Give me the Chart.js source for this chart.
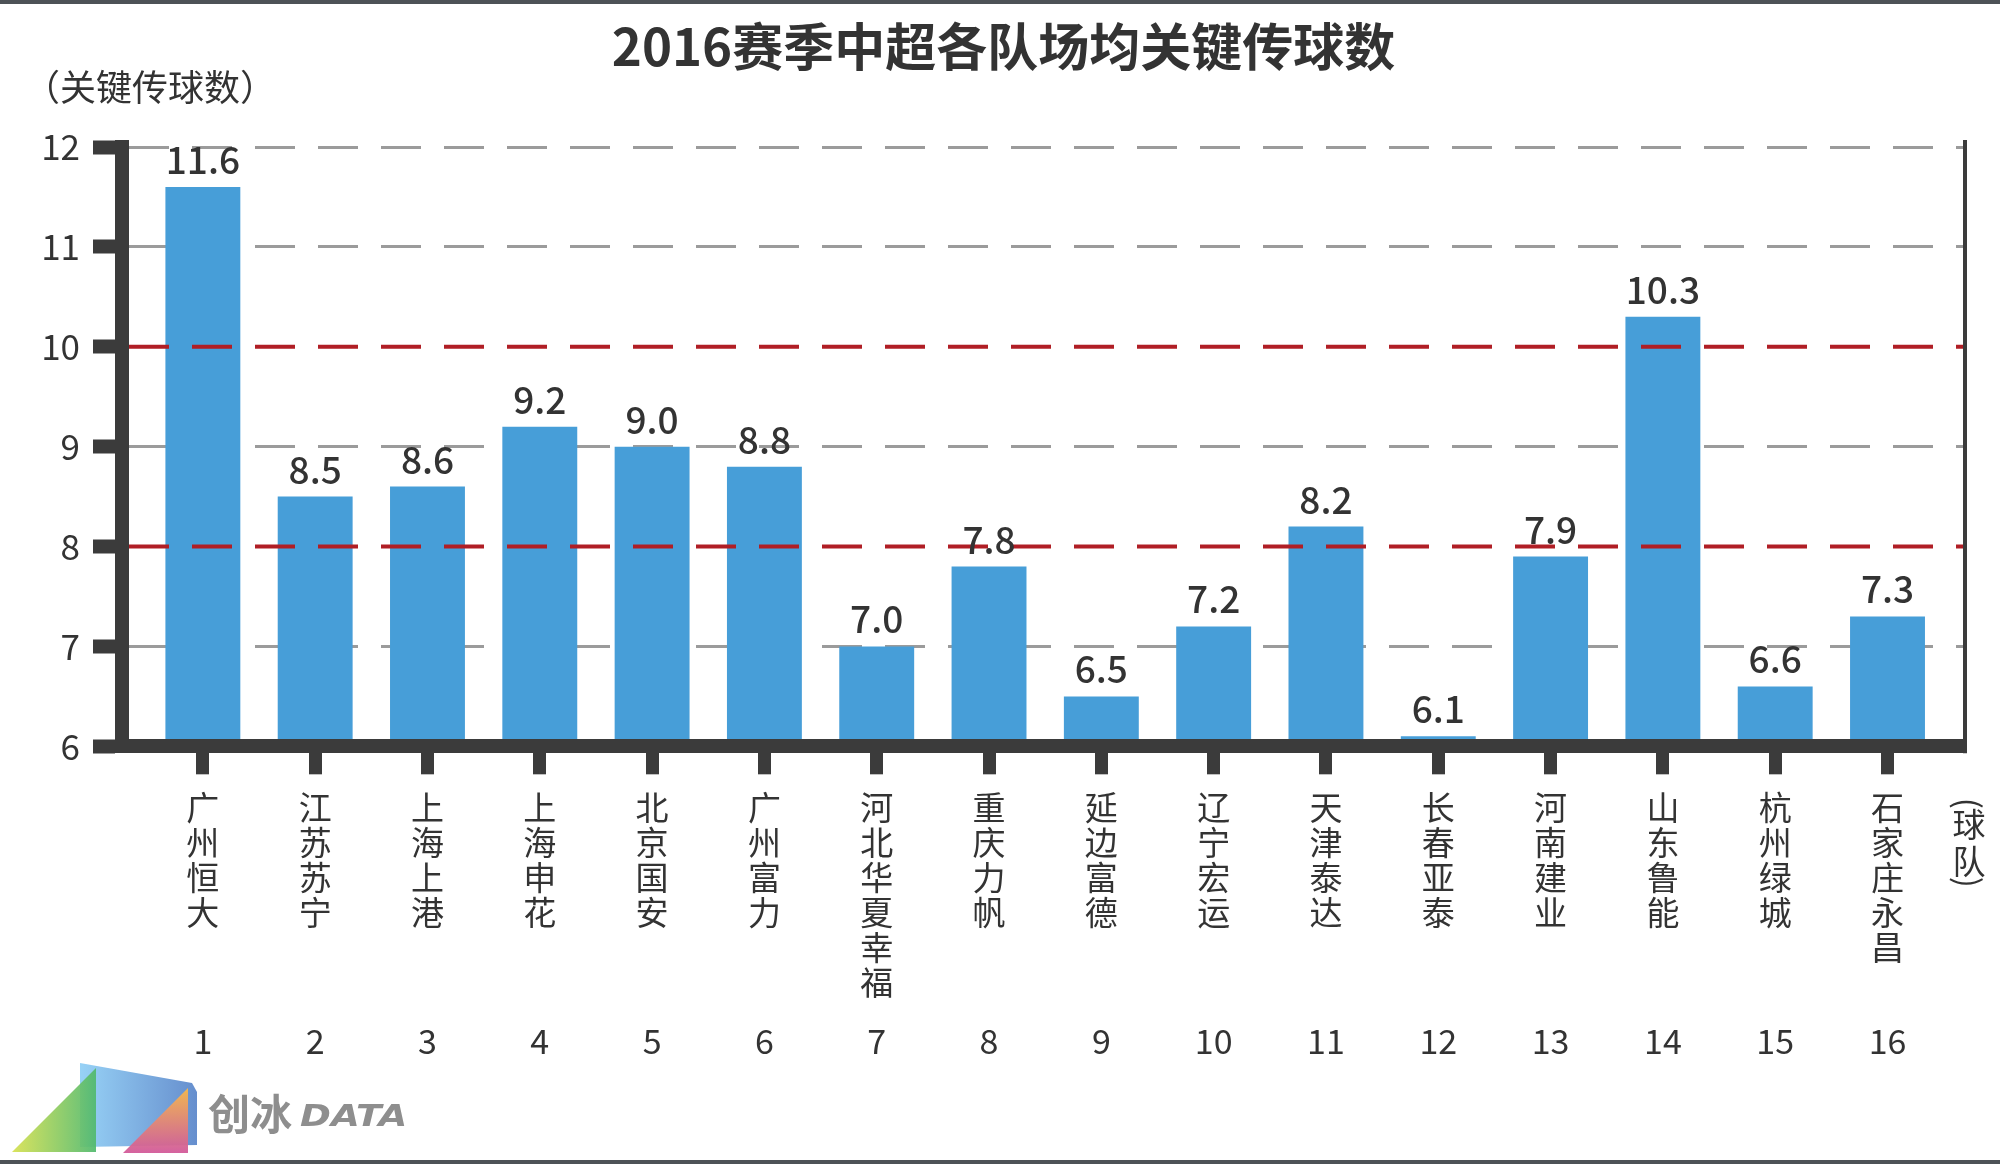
<!DOCTYPE html>
<html>
<head>
<meta charset="utf-8">
<title>2016赛季中超各队场均关键传球数</title>
<script src="https://cdn.jsdelivr.net/npm/chart.js@4"></script>
<style>
  html, body { margin: 0; padding: 0; background: #fff; }
  #wrap { width: 2000px; height: 1164px; position: relative; }
</style>
</head>
<body>
<div id="wrap"><canvas id="myChart"></canvas></div>
<script>
const ranks = [1, 2, 3, 4, 5, 6, 7, 8, 9, 10, 11, 12, 13, 14, 15, 16];
const teams = ["广州恒大", "江苏苏宁", "上海上港", "上海申花", "北京国安", "广州富力", "河北华夏幸福", "重庆力帆",
  "延边富德", "辽宁宏运", "天津泰达", "长春亚泰", "河南建业", "山东鲁能", "杭州绿城", "石家庄永昌"];
const passes = [11.6, 8.5, 8.6, 9.2, 9.0, 8.8, 7.0, 7.8, 6.5, 7.2, 8.2, 6.1, 7.9, 10.3, 6.6, 7.3];
const yTicks = [6, 7, 8, 9, 10, 11, 12];
const refLines = [8, 10];

const FONT = "'Noto Sans CJK SC', 'Noto Sans', sans-serif";
const DARK = "#3b3b3b";
const BAR = "#479ED8";
const RED = "#b01e25";
const DASH = [40, 23];

Chart.defaults.font.family = FONT;
Chart.defaults.color = "#333";

const xMin = ranks[0] - 0.72;
const xMax = ranks[ranks.length - 1] + 0.69;

// red reference lines go on top of the bars
const refLinePlugin = {
  id: "refLines",
  afterDatasetsDraw(chart) {
    const { ctx, chartArea, scales } = chart;
    ctx.save();
    ctx.strokeStyle = RED;
    ctx.lineWidth = 4;
    ctx.setLineDash(DASH);
    refLines.forEach(v => {
      const py = scales.y.getPixelForValue(v);
      ctx.beginPath();
      ctx.moveTo(chartArea.left + 7, py);
      ctx.lineTo(chartArea.right, py);
      ctx.stroke();
    });
    ctx.restore();
  }
};

const decorPlugin = {
  id: "decor",
  beforeDraw(chart) {
    const { ctx, width, height } = chart;
    ctx.save();
    ctx.fillStyle = "#4d5257";
    ctx.fillRect(0, 0, width, 4);
    ctx.fillRect(0, height - 4, width, 4);
    ctx.restore();
  },
  afterDraw(chart) {
    const { ctx, chartArea, height } = chart;
    ctx.save();

    // y unit in the top left corner
    ctx.fillStyle = "#333";
    ctx.font = "36px " + FONT;
    ctx.textAlign = "left";
    ctx.textBaseline = "middle";
    ctx.fillText("（关键传球数）", chartArea.left - 98, chartArea.top - 60);

    // right frame line
    ctx.strokeStyle = DARK;
    ctx.lineWidth = 4;
    ctx.beginPath();
    ctx.moveTo(chartArea.right, chartArea.top - 7);
    ctx.lineTo(chartArea.right, chartArea.bottom + 7);
    ctx.stroke();

    // value labels
    const meta = chart.getDatasetMeta(0);
    ctx.font = "500 37px " + FONT;
    ctx.textAlign = "center";
    ctx.textBaseline = "alphabetic";
    meta.data.forEach((bar, i) => {
      ctx.fillText(passes[i].toFixed(1), bar.x, bar.y - 13);
    });

    // x unit, written vertically
    const rx = chartArea.right + 4;
    const by = chartArea.bottom;
    ctx.font = "33px " + FONT;
    ctx.textBaseline = "middle";
    ctx.fillText("球", rx, by + 78);
    ctx.fillText("队", rx, by + 115);
    [["(", by + 57], [")", by + 136]].forEach(([ch, py]) => {
      ctx.save();
      ctx.translate(rx, py);
      ctx.rotate(Math.PI / 2);
      ctx.fillText(ch, 0, 0);
      ctx.restore();
    });

    // logo
    const oy = height - 1164;
    let g = ctx.createLinearGradient(80, 0, 197, 0);
    g.addColorStop(0, "rgba(140,205,245,0.9)");
    g.addColorStop(1, "rgba(85,130,200,0.9)");
    ctx.fillStyle = g;
    ctx.beginPath();
    ctx.moveTo(80, oy + 1063);
    ctx.lineTo(192, oy + 1083);
    ctx.lineTo(197, oy + 1092);
    ctx.lineTo(197, oy + 1145);
    ctx.lineTo(80, oy + 1147);
    ctx.closePath();
    ctx.fill();

    g = ctx.createLinearGradient(12, 0, 96, 0);
    g.addColorStop(0, "rgba(215,225,80,0.92)");
    g.addColorStop(1, "rgba(80,185,110,0.92)");
    ctx.fillStyle = g;
    ctx.beginPath();
    ctx.moveTo(96, oy + 1068);
    ctx.lineTo(96, oy + 1152);
    ctx.lineTo(12, oy + 1152);
    ctx.closePath();
    ctx.fill();

    g = ctx.createLinearGradient(0, oy + 1088, 0, oy + 1153);
    g.addColorStop(0, "rgba(248,185,75,0.95)");
    g.addColorStop(1, "rgba(210,90,155,0.95)");
    ctx.fillStyle = g;
    ctx.beginPath();
    ctx.moveTo(188, oy + 1088);
    ctx.lineTo(188, oy + 1153);
    ctx.lineTo(123, oy + 1153);
    ctx.closePath();
    ctx.fill();

    ctx.fillStyle = "#8e8e8e";
    ctx.textAlign = "left";
    ctx.textBaseline = "alphabetic";
    ctx.font = "bold 42px " + FONT;
    ctx.fillText("创冰", 208, oy + 1130);
    ctx.save();
    ctx.translate(300, oy + 1126);
    ctx.scale(1.2, 1);
    ctx.font = "italic bold 31px 'DejaVu Sans', sans-serif";
    ctx.fillText("DATA", 0, 0);
    ctx.restore();
    ctx.restore();
  }
};

const ctx = document.getElementById("myChart").getContext("2d");
const chart = new Chart(ctx, {
  type: "bar",
  data: {
    labels: ranks,
    datasets: [
      {
        label: "场均关键传球数",
        data: passes,
        backgroundColor: BAR,
        categoryPercentage: 1,
        barPercentage: 0.667
      }
    ]
  },
  options: {
    responsive: true,
    maintainAspectRatio: false,
    animation: false,
    layout: { padding: { left: 42, right: 35, top: 0, bottom: 99 } },
    plugins: {
      legend: { display: false },
      tooltip: { enabled: false },
      title: {
        display: true,
        text: "2016赛季中超各队场均关键传球数",
        color: "#333",
        font: { size: 51, weight: "bold", lineHeight: 1 },
        padding: { top: 21, bottom: 75 }
      }
    },
    scales: {
      x: {
        type: "linear",
        position: "bottom",
        offset: false,
        min: xMin,
        max: xMax,
        weight: 0,
        ticks: {
          stepSize: 1,
          maxTicksLimit: 30,
          includeBounds: false,
          autoSkip: false,
          maxRotation: 0,
          minRotation: 0,
          padding: 16,
          color: "#333",
          font: { size: 33, lineHeight: 1.06 },
          callback: v => {
            const i = ranks.indexOf(v);
            return i < 0 ? "" : teams[i].split("");
          }
        },
        grid: {
          offset: false,
          drawOnChartArea: false,
          tickLength: 28,
          tickWidth: 13,
          tickColor: DARK,
          color: DARK
        },
        border: { color: DARK, width: 14, z: 1 }
      },
      x2: {
        type: "linear",
        position: "bottom",
        offset: false,
        min: xMin,
        max: xMax,
        weight: 1,
        ticks: {
          stepSize: 1,
          maxTicksLimit: 30,
          includeBounds: false,
          autoSkip: false,
          maxRotation: 0,
          minRotation: 0,
          padding: 4,
          color: "#333",
          font: { size: 34 },
          callback: v => (ranks.includes(v) ? String(v) : "")
        },
        grid: { display: false, drawTicks: false, offset: false },
        border: { display: false }
      },
      y: {
        min: yTicks[0],
        max: yTicks[yTicks.length - 1],
        afterFit: s => { s.width = 80; },
        ticks: {
          stepSize: 1,
          padding: 13,
          color: "#333",
          font: { size: 35 }
        },
        grid: {
          color: c => (c.tick && (c.tick.value === yTicks[0] || refLines.includes(c.tick.value)) ? "rgba(0,0,0,0)" : "#9b9b9b"),
          lineWidth: 3,
          tickLength: 29,
          tickWidth: 14,
          tickColor: DARK
        },
        border: { color: DARK, width: 14, dash: DASH, z: 1 }
      }
    }
  },
  plugins: [refLinePlugin, decorPlugin]
});
</script>
</body>
</html>
